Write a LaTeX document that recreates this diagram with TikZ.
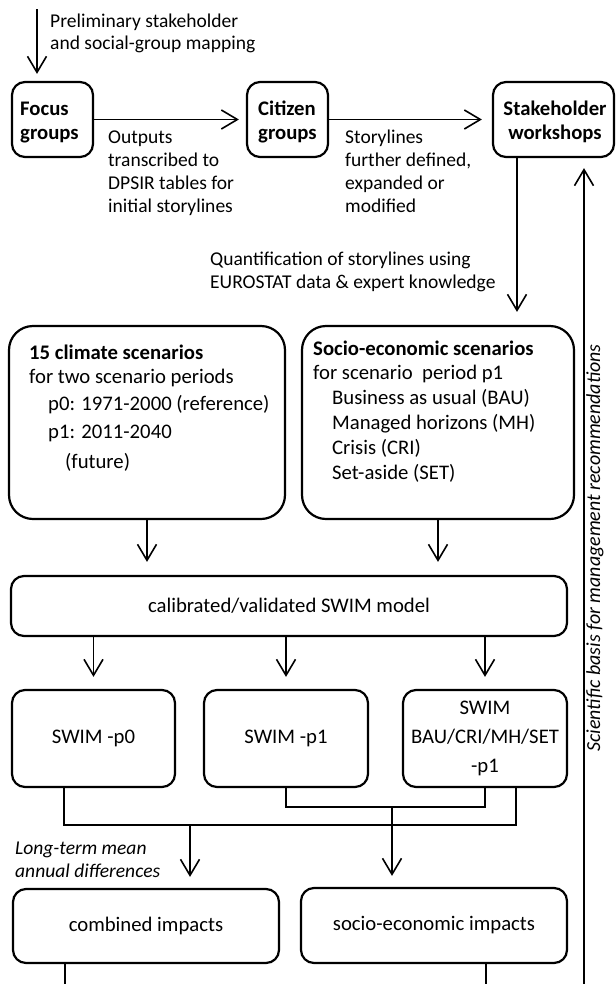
\documentclass[tikz,border=0pt]{standalone}
\usepackage{fontspec}
\setmainfont{Carlito}
\usetikzlibrary{arrows.meta,calc}
\newcommand{\tlft}[1]{\begin{tabular}[t]{@{}l@{}}#1\end{tabular}}
\newcommand{\tcen}[1]{\begin{tabular}[t]{@{}c@{}}#1\end{tabular}}
\begin{document}
\begin{tikzpicture}[x=1bp,y=-1bp,
  box/.style={draw, line width=2.2bp, rounded corners=13bp, inner sep=0pt},
  bigbox/.style={box, rounded corners=24bp},
  arr/.style={line width=1.6bp, -{Straight Barb[length=16bp,width=19bp,line width=1.6bp]}},
  ln/.style={line width=1.6bp},
  side/.style={font=\fontsize{19.6}{23.3}\selectfont, inner sep=0pt, anchor=base west},
  sideit/.style={font=\fontsize{19.6}{23.3}\selectfont\itshape, inner sep=0pt, anchor=base west},
  boxt/.style={font=\fontsize{20.8}{25}\selectfont},
  boldt/.style={font=\fontsize{20.8}{25}\selectfont\bfseries, inner sep=0pt},
  plaint/.style={font=\fontsize{20.8}{25}\selectfont, inner sep=0pt, anchor=base west},
]
\useasboundingbox (0,0) rectangle (616,984);
\coordinate (bot) at (0,984);

% top row
\node[box, minimum width=81bp, minimum height=75bp] (focus) at (52.5,119.5) {};
\node[box, minimum width=81bp, minimum height=75bp] (citizen) at (287.5,119.5) {};
\node[box, minimum width=121bp, minimum height=75bp] (stake) at (553.5,119.5) {};
\node[boldt, anchor=base west] (focust) at (20,115) {\tlft{Focus\\groups}};
\node[boldt, anchor=base west] (citizent) at (258,115) {\tlft{Citizen\\groups}};
\node[boldt, anchor=base] (staket) at (555,115) {\tcen{Stakeholder\\workshops}};

\coordinate (start) at (37,9);
\draw[arr, shorten >=7bp] (start) -- (start |- focus.north);
\node[side, font=\fontsize{19.6}{22.5}\selectfont] (prelim) at (50,27) {\tlft{Preliminary stakeholder\\and social-group mapping}};

\draw[arr, shorten >=7bp] (focus) -- (citizen);
\draw[arr, shorten >=10bp] (citizen) -- (stake);
\node[side] (outputs) at (108,143) {\tlft{Outputs\\transcribed to\\DPSIR tables for\\initial storylines}};
\node[side] (storyl) at (345,143) {\tlft{Storylines\\further defined,\\expanded or\\modified}};

% scenarios
\node[bigbox, minimum width=276bp, minimum height=193bp] (clim) at (147,422.5) {};
\node[bigbox, minimum width=272bp, minimum height=193bp] (socio) at (438,422.5) {};

\coordinate (qx) at (517,0);
\draw[arr, shorten >=13bp] (stake.south -| qx) -- (socio.north -| qx);
\node[side, font=\fontsize{19.6}{23.5}\selectfont] (quant) at (210,265) {\tlft{Quantification of storylines using\\EUROSTAT data \& expert knowledge}};

\node[plaint] (climt) at (29,359) {\tlft{\textbf{15 climate scenarios}\\
for two scenario periods\\[2pt]
\hspace{19bp}p0: 1971-2000 (reference)\\[3pt]
\hspace{19bp}p1: 2011-2040\\[5pt]
\hspace{36bp}(future)}};
\node[plaint] (sociot) at (313,355) {\tlft{\textbf{Socio-economic scenarios}\\
for scenario\ \ period p1\\
\hspace{19bp}Business as usual (BAU)\\
\hspace{19bp}Managed horizons (MH)\\
\hspace{19bp}Crisis (CRI)\\
\hspace{19bp}Set-aside (SET)}};

% model
\node[box, boxt, minimum width=556bp, minimum height=60bp] (model) at (289,606) {calibrated/validated SWIM model};
\draw[arr, shorten >=13bp] (clim.south) -- (clim.south |- model.north);
\draw[arr, shorten >=13bp] (socio.south) -- (socio.south |- model.north);

% SWIM runs
\node[box, boxt, minimum width=163bp, minimum height=97bp] (p0) at (93.5,738.5) {SWIM -p0};
\node[box, boxt, minimum width=164bp, minimum height=97bp] (p1) at (286,738.5) {SWIM -p1};
\node[box, boxt, font=\fontsize{20.8}{29.5}\selectfont, align=center, minimum width=164bp, minimum height=97bp] (bau) at (485,738.5) {SWIM\\BAU/CRI/MH/SET\\-p1};
\draw[arr, shorten >=12bp] (p0.north |- model.south) -- (p0.north);
\draw[arr, shorten >=12bp] (p1.north |- model.south) -- (p1.north);
\draw[arr, shorten >=12bp] (bau.north |- model.south) -- (bau.north);

% impacts
\node[box, boxt, minimum width=266bp, minimum height=74bp] (comb) at (146,926) {combined impacts};
\node[box, boxt, minimum width=266bp, minimum height=75bp] (socimp) at (434,925.5) {socio-economic impacts};

\coordinate (j1) at (190,825);
\coordinate (j2) at (392,807);
\coordinate (p0b) at ($(p0.south west)+(53,0)$);
\coordinate (bauR) at ($(bau.south west)+(114,0)$);
\draw[ln] (p0b) |- (j1) -| (bauR);
\draw[ln] (p1.south) |- (j2) -| (bau.south);
\draw[arr, shorten >=11bp] (j1) -- (j1 |- comb.north);
\draw[arr, shorten >=11bp] (j2) -- (j2 |- socimp.north);
\node[sideit] (ltm) at (15,854) {\tlft{Long-term mean\\annual differences}};

\coordinate (cb) at ($(comb.south west)+(53,0)$);
\coordinate (sb) at ($(socimp.south west)+(186,0)$);
\draw[ln] (cb) -- (cb |- bot);
\draw[ln] (sb) -- (sb |- bot);

% feedback
\coordinate (vb) at (584,984);
\draw[arr, shorten >=10bp] (vb) -- (vb |- stake.south);
\node[rotate=90, inner sep=0pt, font=\fontsize{20}{24}\selectfont\itshape] (sci) at (595,548) {Scientific basis for management recommendations};
\end{tikzpicture}
\end{document}
